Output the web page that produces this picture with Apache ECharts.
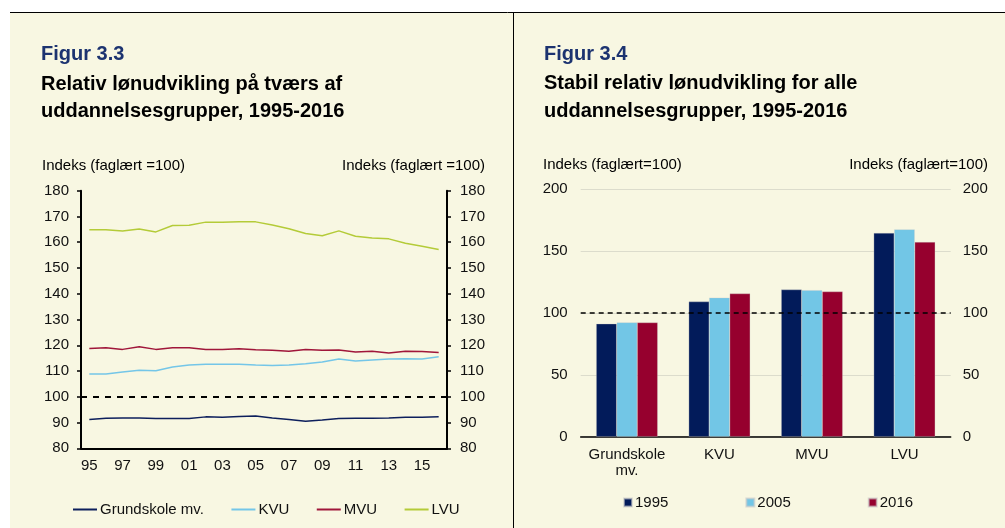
<!DOCTYPE html>
<html>
<head>
<meta charset="utf-8">
<script src="https://cdn.jsdelivr.net/npm/echarts@6/dist/echarts.min.js"></script>
<style>
html, body { margin: 0; padding: 0; background: #fff; }
#main { width: 1005px; height: 528px; }
</style>
</head>
<body>
<div id="main"></div>
<script>
// Figur 3.3 - relativ lønudvikling (indeks, faglært = 100)
var years = ['95','96','97','98','99','00','01','02','03','04','05','06','07','08','09','10','11','12','13','14','15','16'];
var grundskole = [91.2, 91.7, 91.8, 91.8, 91.6, 91.6, 91.6, 92.2, 92.1, 92.3, 92.5, 91.8, 91.2, 90.5, 91.0, 91.6, 91.7, 91.7, 91.8, 92.1, 92.1, 92.2];
var kvu = [108.8, 108.8, 109.6, 110.3, 110.1, 111.6, 112.3, 112.6, 112.6, 112.6, 112.3, 112.1, 112.3, 112.8, 113.5, 114.7, 113.9, 114.3, 114.7, 114.8, 114.7, 115.5];
var mvu = [118.7, 119.0, 118.4, 119.4, 118.4, 119.0, 119.0, 118.4, 118.4, 118.6, 118.3, 118.1, 117.7, 118.4, 118.1, 118.2, 117.4, 117.7, 117.0, 117.7, 117.6, 117.2];
var lvu = [164.8, 164.8, 164.4, 165.1, 164.0, 166.5, 166.6, 167.8, 167.8, 167.9, 167.9, 166.7, 165.2, 163.4, 162.5, 164.4, 162.3, 161.6, 161.3, 159.6, 158.4, 157.2];

// Figur 3.4 - 1995, 2005, 2016 pr. uddannelsesgruppe
var groups = ['Grundskole\nmv.', 'KVU', 'MVU', 'LVU'];
var bar1995 = [91.3, 109.2, 118.9, 164.6];
var bar2005 = [92.4, 112.4, 118.4, 167.6];
var bar2016 = [92.3, 115.7, 117.3, 157.3];

var FONT = '"Liberation Sans", Arial, sans-serif';
var BG = '#f8f7e2';

var dom = document.getElementById('main');
var myChart = echarts.init(dom, null, { renderer: 'canvas' });

function txt(text, x, y, size, bold, color, align) {
    return {
        type: 'text',
        x: x, y: y,
        silent: true,
        style: {
            text: text,
            fill: color || '#000',
            font: (bold ? 'bold ' : '') + size + 'px ' + FONT,
            align: align || 'left',
            verticalAlign: 'middle'
        }
    };
}

var axisLbl = { color: '#111', fontSize: 15, fontFamily: FONT };

var option = {
    backgroundColor: '#fff',
    animation: false,
    graphic: [
        { type: 'rect', shape: { x: 10, y: 12, width: 995, height: 516 }, style: { fill: BG }, z: -10, silent: true },
        { type: 'line', shape: { x1: 10, y1: 12.5, x2: 1005, y2: 12.5 }, style: { stroke: '#000', lineWidth: 1 }, silent: true },
        { type: 'line', shape: { x1: 513.5, y1: 12, x2: 513.5, y2: 528 }, style: { stroke: '#000', lineWidth: 1 }, silent: true },
        txt('Figur 3.3', 41, 54.5, 20, true, '#1c3370'),
        txt('Relativ lønudvikling på tværs af', 41, 84.5, 20, true),
        txt('uddannelsesgrupper, 1995-2016', 41, 111, 20, true),
        txt('Figur 3.4', 544, 54.5, 20, true, '#1c3370'),
        txt('Stabil relativ lønudvikling for alle', 544, 83.5, 20, true),
        txt('uddannelsesgrupper, 1995-2016', 544, 111, 20, true),
        txt('Indeks (faglært =100)', 42, 165.5, 15, false),
        txt('Indeks (faglært =100)', 485, 165.5, 15, false, '#000', 'right'),
        txt('Indeks (faglært=100)', 543, 164.5, 15, false),
        txt('Indeks (faglært=100)', 988, 164.5, 15, false, '#000', 'right')
    ],
    legend: [
        {
            left: 73, top: 502, padding: 0,
            itemWidth: 24, itemHeight: 2, itemGap: 27.5, icon: 'rect',
            textStyle: { color: '#111', fontSize: 15, fontFamily: FONT, padding: [0, 0, 0, -2] },
            data: ['Grundskole mv.', 'KVU', 'MVU', 'LVU']
        },
        {
            left: 623, top: 495, padding: 0,
            itemWidth: 8, itemHeight: 8, itemGap: 77, icon: 'rect',
            textStyle: { color: '#111', fontSize: 15, fontFamily: FONT, padding: [0, 0, 0, -2] },
            data: ['1995', '2005', '2016']
        }
    ],
    grid: [
        { left: 81, top: 190.7, width: 366, height: 257.6 },
        { left: 580.7, top: 189.3, width: 370, height: 247.4 }
    ],
    xAxis: [
        {
            gridIndex: 0, type: 'category', data: years, boundaryGap: true,
            axisLine: { lineStyle: { color: '#000', width: 2 } },
            axisTick: { interval: 0, length: 4, lineStyle: { color: '#000', width: 1.5 } },
            axisLabel: Object.assign({ interval: 1, margin: 10 }, axisLbl)
        },
        {
            gridIndex: 1, type: 'category', data: groups,
            axisLine: { lineStyle: { color: '#000', width: 1.5 } },
            axisTick: { length: 5, lineStyle: { color: '#000', width: 1.2 } },
            axisLabel: Object.assign({ interval: 0, margin: 10, lineHeight: 16 }, axisLbl)
        }
    ],
    yAxis: [
        {
            gridIndex: 0, type: 'value', min: 80, max: 180, interval: 10, position: 'left',
            axisLine: { show: true, lineStyle: { color: '#000', width: 2 } },
            axisTick: { show: true, length: 4, lineStyle: { color: '#000', width: 1.5 } },
            axisLabel: Object.assign({ margin: 12 }, axisLbl),
            splitLine: { show: false }
        },
        {
            gridIndex: 0, type: 'value', min: 80, max: 180, interval: 10, position: 'right',
            axisLine: { show: true, lineStyle: { color: '#000', width: 2 } },
            axisTick: { show: true, length: 4, lineStyle: { color: '#000', width: 1.5 } },
            axisLabel: Object.assign({ margin: 13 }, axisLbl),
            splitLine: { show: false }
        },
        {
            gridIndex: 1, type: 'value', min: 0, max: 200, interval: 50, position: 'left',
            axisLine: { show: false }, axisTick: { show: false },
            axisLabel: Object.assign({ margin: 13 }, axisLbl),
            splitLine: { show: true, lineStyle: { color: '#dcdccc', width: 1 } }
        },
        {
            gridIndex: 1, type: 'value', min: 0, max: 200, interval: 50, position: 'right',
            axisLine: { show: false }, axisTick: { show: false },
            axisLabel: Object.assign({ margin: 12 }, axisLbl),
            splitLine: { show: false }
        }
    ],
    series: [
        {
            name: 'Grundskole mv.', type: 'line', xAxisIndex: 0, yAxisIndex: 0,
            data: grundskole, symbol: 'none', color: '#0d1f5c',
            lineStyle: { width: 1.5 },
            markLine: {
                silent: true, symbol: 'none', label: { show: false },
                lineStyle: { color: '#000', type: [6, 6], width: 2 },
                data: [{ yAxis: 100 }]
            }
        },
        { name: 'KVU', type: 'line', xAxisIndex: 0, yAxisIndex: 0, data: kvu, symbol: 'none', color: '#74c6e8', lineStyle: { width: 1.5 } },
        { name: 'MVU', type: 'line', xAxisIndex: 0, yAxisIndex: 0, data: mvu, symbol: 'none', color: '#a0163a', lineStyle: { width: 1.5 } },
        { name: 'LVU', type: 'line', xAxisIndex: 0, yAxisIndex: 0, data: lvu, symbol: 'none', color: '#b4cb38', lineStyle: { width: 1.5 } },
        {
            name: '1995', type: 'bar', xAxisIndex: 1, yAxisIndex: 2, data: bar1995,
            color: '#021b5a', barGap: '0%', barCategoryGap: '33.5%',
            itemStyle: { borderColor: 'rgba(200,200,200,0.6)', borderWidth: 0.5 },
            markLine: {
                silent: true, symbol: 'none', label: { show: false },
                lineStyle: { color: '#000', type: [5, 4], width: 1.5 },
                data: [{ yAxis: 100 }], z: 10
            }
        },
        { name: '2005', type: 'bar', xAxisIndex: 1, yAxisIndex: 2, data: bar2005, color: '#72c6e6', itemStyle: { borderColor: 'rgba(200,200,200,0.6)', borderWidth: 0.5 } },
        { name: '2016', type: 'bar', xAxisIndex: 1, yAxisIndex: 2, data: bar2016, color: '#96002e', itemStyle: { borderColor: 'rgba(200,200,200,0.6)', borderWidth: 0.5 } }
    ]
};

if (option && typeof option === "object") {
    myChart.setOption(option, true);
}
</script>
</body>
</html>
